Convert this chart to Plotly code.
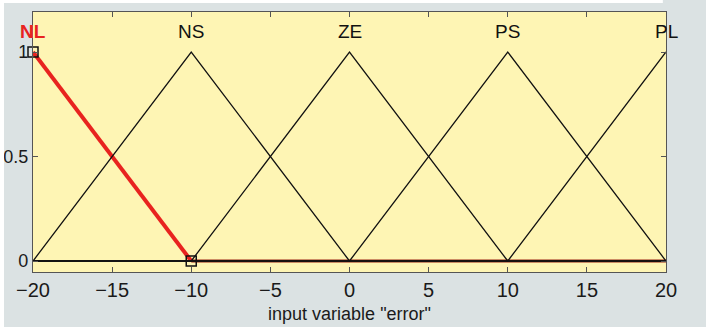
import plotly.graph_objects as go

# membership functions of input variable "error"
mf_names = ["NL", "NS", "ZE", "PS", "PL"]
mf_peaks = [-20, -10, 0, 10, 20]

nl_x = [-20, -10, 20]
nl_y = [1, 0, 0]
ns_x = [-20, -10, 0, 20]
ns_y = [0, 1, 0, 0]
ze_x = [-20, -10, 0, 10, 20]
ze_y = [0, 0, 1, 0, 0]
ps_x = [-20, 0, 10, 20]
ps_y = [0, 0, 1, 0]
pl_x = [-20, 10, 20]
pl_y = [0, 0, 1]

# selected-MF handles
handle_x = [-20, -10]
handle_y = [1, 0]

x_ticks = [-20, -15, -10, -5, 0, 5, 10, 15, 20]
x_ticktext = ["\u221220", "\u221215", "\u221210", "\u22125", "0", "5", "10", "15", "20"]
y_ticks = [0, 0.5, 1]
y_ticktext = ["0", "0.5", "1"]

fig = go.Figure()

# selected MF: thick red slope, darker flat tail along zero
fig.add_trace(go.Scatter(x=nl_x[:2], y=nl_y[:2], mode="lines",
                         line=dict(color="#e8231f", width=4)))
fig.add_trace(go.Scatter(x=nl_x[1:], y=nl_y[1:], mode="lines",
                         line=dict(color="#9a2414", width=3)))
for xs, ys in [(ns_x, ns_y), (ze_x, ze_y), (ps_x, ps_y), (pl_x, pl_y)]:
    fig.add_trace(go.Scatter(x=xs, y=ys, mode="lines",
                             line=dict(color="#111111", width=1.3)))
fig.add_trace(go.Scatter(x=handle_x, y=handle_y, mode="markers",
                         marker=dict(symbol="square-open", size=10,
                                     color="#111111", line=dict(width=1.5)),
                         cliponaxis=False))

for name, peak in zip(mf_names, mf_peaks):
    fig.add_annotation(x=peak, y=1.097,
                       text=f"<b>{name}</b>" if name == "NL" else name,
                       showarrow=False,
                       font=dict(size=19,
                                 color="#e8231f" if name == "NL" else "#111111"),
                       yanchor="middle")

# thin white edge of the scanned page (top and left)
fig.add_shape(type="rect", xref="paper", yref="paper",
              x0=-0.06, x1=0.995, y0=1.0346, y1=1.06,
              fillcolor="#ffffff", line_width=0)
fig.add_shape(type="rect", xref="paper", yref="paper",
              x0=-0.06, x1=-0.0458, y0=-0.3, y1=1.06,
              fillcolor="#ffffff", line_width=0)

fig.update_xaxes(range=[-20, 20], tickvals=x_ticks, ticktext=x_ticktext,
                 ticks="inside", ticklen=5, tickcolor="#555555",
                 showline=True, linecolor="#555555", linewidth=1.2, mirror="ticks",
                 showgrid=False, zeroline=False, automargin=False,
                 tickfont=dict(size=20, color="#1a1a1a"),
                 title=dict(text='input variable "error"', standoff=7,
                            font=dict(size=18, color="#1a1a1a")))
fig.update_yaxes(range=[-0.0526, 1.1914], tickvals=y_ticks, ticktext=y_ticktext,
                 ticks="inside", ticklen=5, tickcolor="#555555",
                 showline=True, linecolor="#555555", linewidth=1.2, mirror="ticks",
                 showgrid=False, zeroline=False, automargin=False,
                 tickfont=dict(size=18, color="#1a1a1a"))

fig.update_layout(
    width=706, height=327,
    margin=dict(l=33, r=40, t=12, b=55),
    paper_bgcolor="#dbe2e3",
    plot_bgcolor="#fef5b4",
    showlegend=False,
    font=dict(family="Liberation Sans, Arial, sans-serif"),
)

# drop the browser's default body margin so the figure sits at the window origin
fig.write_html("out.html", config={"displayModeBar": False},
               post_script="document.body.style.margin = '0';")
